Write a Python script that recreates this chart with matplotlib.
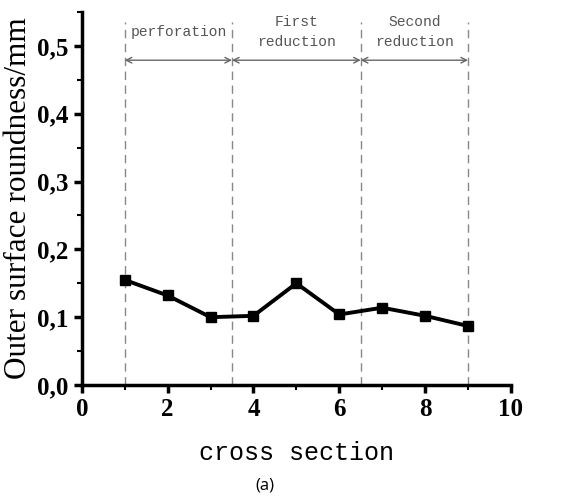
import matplotlib
matplotlib.use("Agg")
import matplotlib.pyplot as plt
from matplotlib.ticker import MultipleLocator, FuncFormatter

# data
sections = [1, 2, 3, 4, 5, 6, 7, 8, 9]
roundness = [0.155, 0.132, 0.100, 0.102, 0.150, 0.104, 0.114, 0.102, 0.087]

# stage borders and names
borders = [1, 3.5, 6.5, 9]
stage_names = ["perforation", "First\nreduction", "Second\nreduction"]


def main():
    fig = plt.figure(figsize=(5.64, 5.03), dpi=100)
    ax = fig.add_axes([0.145, 0.2346, 0.761, 0.7414])

    ax.plot(sections, roundness, color="black", lw=2.8, marker="s", ms=7)

    # dashed stage borders
    for b in borders:
        ax.plot([b, b], [0, 0.535], color="#888888", lw=1, ls=(0, (6, 4)), zorder=1)

    # double arrows and stage names
    for i, name in enumerate(stage_names):
        x0, x1 = borders[i], borders[i + 1]
        ax.annotate("", xy=(x1, 0.479), xytext=(x0, 0.479),
                    arrowprops=dict(arrowstyle="<->", color="#666666", lw=1,
                                    shrinkA=0, shrinkB=0))
        ax.text((x0 + x1) / 2, 0.52, name, ha="center", va="center",
                fontsize=10.5, family="Liberation Mono", color="#555555",
                linespacing=1.55)

    ax.set_xlim(0, 10)
    ax.set_ylim(0, 0.55)
    ax.xaxis.set_major_locator(MultipleLocator(2))
    ax.xaxis.set_minor_locator(MultipleLocator(1))
    ax.yaxis.set_major_locator(MultipleLocator(0.1))
    ax.yaxis.set_minor_locator(MultipleLocator(0.05))
    ax.yaxis.set_major_formatter(FuncFormatter(lambda v, p: f"{v:.1f}".replace(".", ",")))

    for s in ["top", "right"]:
        ax.spines[s].set_visible(False)
    for s in ["left", "bottom"]:
        ax.spines[s].set_linewidth(2.5)

    ax.tick_params(which="major", direction="out", length=6, width=2.5)
    ax.tick_params(which="minor", direction="out", length=3.5, width=1.5)
    for lab in ax.get_xticklabels() + ax.get_yticklabels():
        lab.set_family("Liberation Serif")
        lab.set_fontweight("bold")
        lab.set_fontsize(18)

    ax.set_xlabel("cross section", family="Liberation Mono", fontsize=18, labelpad=14)
    ax.set_ylabel("Outer surface roundness/mm", family="Liberation Serif", fontsize=22.5,
                  labelpad=3)

    fig.text(0.47, 0.035, "(a)", ha="center", va="center", fontsize=12,
             family="Open Sans")

    fig.savefig("out.png", dpi=100)


if __name__ == "__main__":
    main()
